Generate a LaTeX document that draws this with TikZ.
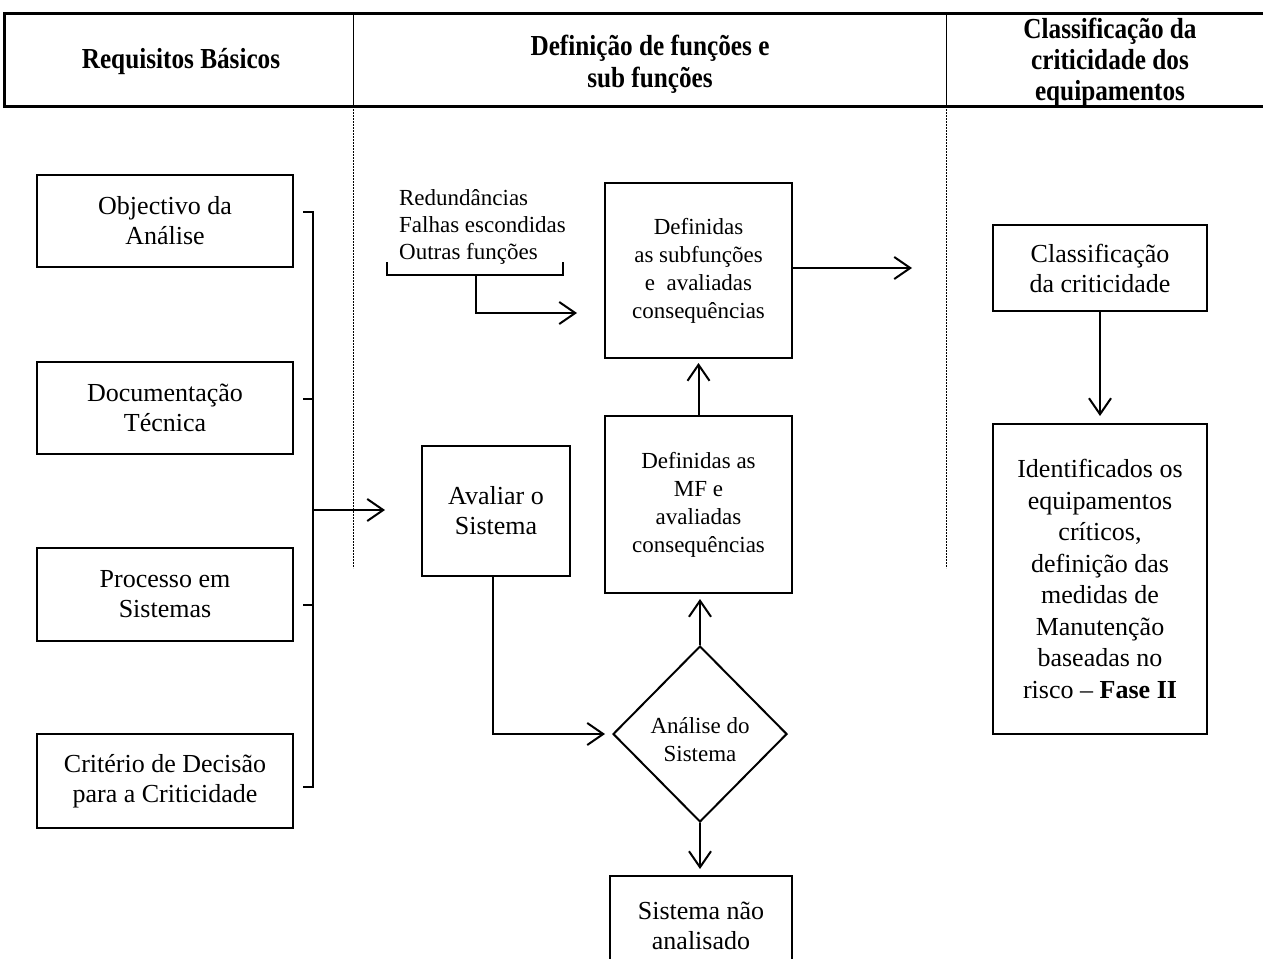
\documentclass[tikz,border=0pt]{standalone}
\usepackage{graphicx}
\usepackage{fontspec}
\setmainfont{Liberation Serif}
\usetikzlibrary{arrows.meta,shapes.geometric}
% narrow bold heading line
\newcommand\headline[1]{\scalebox{0.87}[1]{#1}}

\begin{document}
\begin{tikzpicture}[x=1pt,y=-1pt,
  box/.style={draw,line width=2pt,align=center,inner sep=0pt,
    font=\fontsize{26}{30}\selectfont},
  smallbox/.style={box,font=\fontsize{23}{28}\selectfont},
  headtxt/.style={align=center,inner sep=0pt,
    font=\bfseries\fontsize{29}{32}\selectfont},
  arr/.style={line width=2pt,-{Straight Barb[length=16pt,width=22pt]}},
  link/.style={line width=2pt},
  rule/.style={line width=3pt},
  sep/.style={line width=0.8pt},
  dotsep/.style={line width=0.8pt,dash pattern=on 2pt off 1pt}
]
\useasboundingbox (0,0) rectangle (1263,958);

% header table
\draw[rule] (1263,14) -- (4,14) -- (4,106) -- (1263,106);
\draw[sep] (353,14) -- (353,106);
\draw[sep] (946,14) -- (946,106);
\draw[dotsep] (353,106) -- (353,568);
\draw[dotsep] (946,106) -- (946,568);

\node[headtxt] (h1) at (181,62) {\headline{Requisitos Básicos}};
\node[headtxt] (h2) at (650,64) {\headline{Definição de funções e}\\\headline{sub funções}};
\node[headtxt,font=\bfseries\fontsize{29}{31}\selectfont] (h3) at (1110,62)
  {\headline{Classificação da}\\\headline{criticidade dos}\\\headline{equipamentos}};

% basic requirements
\node[box,minimum width=256,minimum height=92] (obj) at (165,221) {Objectivo da\\Análise};
\node[box,minimum width=256,minimum height=92] (doc) at (165,408) {Documentação\\Técnica};
\node[box,minimum width=256,minimum height=93] (proc) at (165,594.5) {Processo em\\Sistemas};
\node[box,minimum width=256,minimum height=94] (crit) at (165,781) {Critério de Decisão\\para a Criticidade};

% bracket joining the requirements
\coordinate (bt) at (313,212);
\coordinate (bb) at (313,787);
\coordinate (bm) at (313,510);
\coordinate (bend) at (385,510);
\draw[link] (303,212) -- (bt) -- (bb) -- (303,787);
\draw[link] (303,399) -- (313,399);
\draw[link] (303,605) -- (313,605);
\draw[arr] (bm) -- (bend);

% functions and sub functions
\node[box,minimum width=148,minimum height=130] (aval) at (496,511) {Avaliar o\\Sistema};
\node[smallbox,minimum width=187,minimum height=175] (sub) at (698.5,270.5)
  {Definidas\\as subfunções\\e\ \ avaliadas\\consequências};
\node[smallbox,minimum width=187,minimum height=177] (mf) at (698.5,504.5)
  {Definidas as\\MF e\\avaliadas\\consequências};
\node[draw,diamond,line width=2pt,inner sep=0pt,minimum width=174,minimum height=176] (dia) at (700,734) {};
\node[align=center,inner sep=0pt,font=\fontsize{23}{28}\selectfont] (diatxt) at (700,740)
  {Análise do\\Sistema};
\node[box,minimum width=182,minimum height=100] (nao) at (701,926) {Sistema não\\analisado};

\node[align=left,inner sep=0pt,font=\fontsize{23}{27}\selectfont] (lst) at (482.5,227)
  {Redundâncias\\Falhas escondidas\\Outras funções};
\coordinate (brl) at (387,275);
\coordinate (brr) at (563,275);
\coordinate (brm) at (476,275);
\coordinate (lend) at (577,313);
\draw[link] (387,262) -- (brl) -- (brr) -- (563,262);
\draw[arr] (brm) |- (lend);

\coordinate (sout) at (912,268);
\draw[arr] (sub.east |- sout) -- (sout);
\draw[arr,shorten >=4pt] (mf.north) -- (sub.south);
\draw[arr,shorten >=5pt] (dia.north) -- (dia.north |- mf.south);
\draw[arr,shorten >=7pt] (aval.south -| 493,0) |- (dia.west);
\draw[arr,shorten >=6pt] (dia.south) -- (dia.south |- nao.north);

% criticality classification
\node[box,minimum width=214,minimum height=86] (cls) at (1100,268) {Classificação\\da criticidade};
\node[box,minimum width=214,minimum height=310,font=\fontsize{26}{31.5}\selectfont] (ident) at (1100,579)
  {Identificados os\\equipamentos\\críticos,\\definição das\\medidas de\\Manutenção\\baseadas no\\risco -- \textbf{Fase II}};
\draw[arr,shorten >=7pt] (cls.south) -- (ident.north);
\end{tikzpicture}
\end{document}
